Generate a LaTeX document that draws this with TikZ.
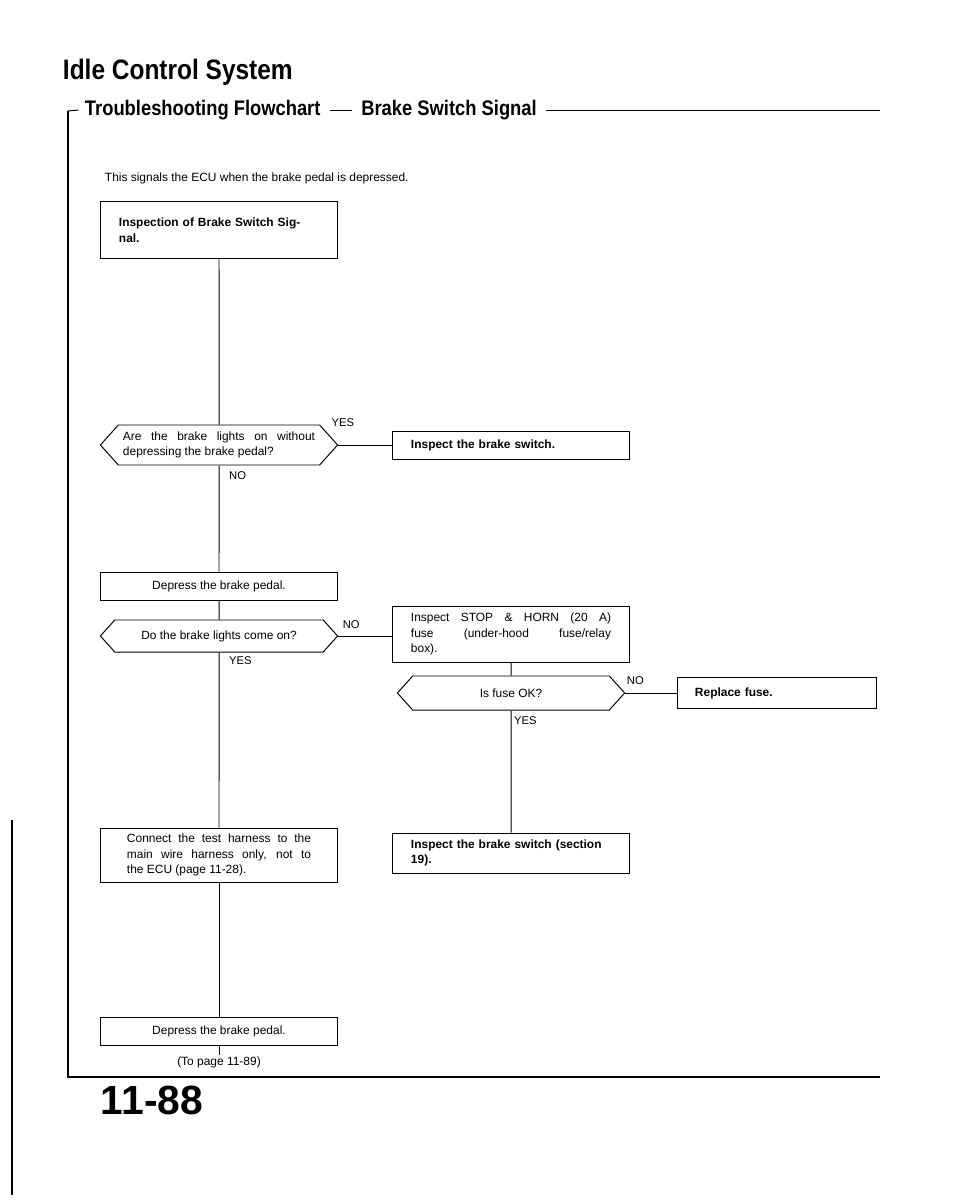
\documentclass[tikz,border=0pt]{standalone}
\usepackage{fontspec}
\setmainfont{Liberation Sans}
\newfontfamily\headfont[FakeStretch=0.87]{Liberation Sans}
\usetikzlibrary{shapes.symbols, positioning}

\begin{document}
\begin{tikzpicture}[
    x=0.025cm, y=-0.025cm,
    box/.style={draw, line width=0.7pt, minimum width=5.93cm, minimum height=0.7cm, inner xsep=0pt, inner ysep=2pt, font=\fontsize{8.5}{11}\selectfont},
    textbox/.style={box, text width=5.0cm, align=justify},
    boldbox/.style={box, text width=5.0cm, align=left, font=\fontsize{8.5}{11}\selectfont\bfseries},
    decision/.style={draw, line width=0.7pt, signal, signal to=west and east, signal pointer angle=96, minimum width=5.93cm, minimum height=1cm, inner xsep=0pt, font=\fontsize{8.5}{11}\selectfont},
    answer/.style={font=\fontsize{8}{9}\selectfont, inner sep=0pt},
    link/.style={line width=0.7pt},
    frame/.style={line width=1.3pt},
]
    \fill[white] (0,0) rectangle (960,1200);
    \useasboundingbox (0,0) rectangle (960,1200);

    % heading
    \node[anchor=west, font=\headfont\bfseries\fontsize{20}{24}\selectfont] (title) at (58,72) {Idle Control System};
    \node[anchor=west, font=\headfont\bfseries\fontsize{15}{18}\selectfont] (sub) at (80,110) {Troubleshooting Flowchart};
    \node[right=22pt of sub, font=\headfont\bfseries\fontsize{15}{18}\selectfont] (subb) {Brake Switch Signal};
    \coordinate (ruleend) at (880,111);
    \coordinate (frameleft) at (68,111);
    \coordinate (bottomright) at (880,1077);
    \draw[link] ([xshift=3pt]sub.east) -- ([xshift=-3pt]subb.west);
    \draw[link] ([xshift=3pt]subb.east) -- (subb.east -| ruleend);
    \draw[link] ([xshift=-1pt]sub.west) -- (frameleft);
    \draw[frame] (frameleft) -- (frameleft |- bottomright) -- (bottomright);
    \node[anchor=west, font=\fontsize{8.5}{10}\selectfont] (intro) at (100,178) {This signals the ECU when the brake pedal is depressed.};

    % left column
    \node[boldbox, minimum height=1.4cm] (inspect) at (219,230) {Inspection of Brake Switch Sig-\\nal.};
    \node[decision, text width=4.8cm, align=justify] (q1) at (219,445) {Are the brake lights on without\linebreak depressing the brake pedal?};
    \node[box] (depress1) at (219,586) {Depress the brake pedal.};
    \node[decision, minimum height=0.8cm] (q2) at (219,636) {Do the brake lights come on?};
    \node[textbox, text width=4.6cm, minimum height=1.35cm] (connect) at (219,855) {Connect the test harness to the\linebreak main wire harness only, not to\linebreak the ECU (page 11-28).};
    \node[box] (depress2) at (219,1031) {Depress the brake pedal.};
    \node[font=\fontsize{8.5}{10}\selectfont, inner sep=1pt] (topage) at (219,1062) {(To page 11-89)};

    % right column
    \node[boldbox] (switch) at (511,445) {Inspect the brake switch.};
    \node[textbox, minimum height=1.4cm] (fuse) at (511,634) {Inspect STOP \& HORN (20 A)\linebreak fuse (under-hood fuse/relay\linebreak box).};
    \node[decision, minimum width=5.68cm, minimum height=0.85cm] (q3) at (511,693) {Is fuse OK?};
    \node[box, minimum width=4.95cm, text width=4.1cm, align=left, minimum height=0.78cm, font=\fontsize{8.5}{11}\selectfont\bfseries] (replace) at (777,693) {Replace fuse.};
    \node[boldbox, minimum height=1cm] (section) at (511,853) {Inspect the brake switch (section\\19).};

    % answers
    \node[answer, above right=13pt and -5pt of q1.east] (q1yes) {YES};
    \node[answer, below right=4pt and 7pt of q1.south] (q1no) {NO};
    \node[answer, above right=5pt and 3pt of q2.east] (q2no) {NO};
    \node[answer, below right=3pt and 7pt of q2.south] (q2yes) {YES};
    \node[answer, above right=6pt and 1pt of q3.east] (q3no) {NO};
    \node[answer, below right=4pt and 2pt of q3.south] (q3yes) {YES};

    % connectors
    \draw[link] (inspect) -- (q1);
    \draw[link] (q1.east) -- (switch.west |- q1.east);
    \draw[link] (q1) -- (depress1);
    \draw[link] (depress1) -- (q2);
    \draw[link] (q2.east) -- (fuse.west |- q2.east);
    \draw[link] (q2) -- (connect);
    \draw[link] (connect) -- (depress2);
    \draw[link] (depress2) -- (topage);
    \draw[link] (fuse) -- (q3);
    \draw[link] (q3.east) -- (replace.west |- q3.east);
    \draw[link] (q3) -- (section);

    % page number and edge
    \node[anchor=west, font=\bfseries\fontsize{29}{32}\selectfont] (page) at (96,1100) {11-88};
    \draw[line width=1pt] (12,820) -- (12,1195);
\end{tikzpicture}
\end{document}
